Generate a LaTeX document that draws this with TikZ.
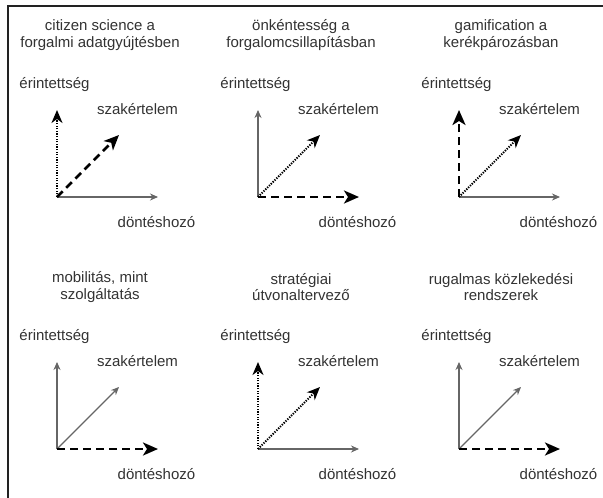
\documentclass[tikz,border=0pt]{standalone}
\usepackage{fontspec}
\setmainfont{Liberation Sans}
\usetikzlibrary{arrows.meta}
\definecolor{axgray}{HTML}{666666}
\definecolor{txtgray}{HTML}{333333}
\definecolor{frame}{HTML}{222222}

\begin{document}
\begin{tikzpicture}[
  x=1pt, y=-1pt,
  every node/.style={text=txtgray, font=\fontsize{15}{16.5}\selectfont, inner sep=0pt},
  thinax/.style={axgray, line width=1.1pt, -{Stealth[length=8pt, width=7pt]}},
  dashax/.style={black, line width=2.6pt, dash pattern=on 8pt off 5pt,
    -{Stealth[length=15pt, width=13pt, inset=4pt]}},
  dotax/.style={black, line width=2pt, dash pattern=on 1.3pt off 1.3pt,
    -{Stealth[length=13pt, width=11pt, inset=4pt]}},
  title/.style={align=center},
]

% Background and frame
\useasboundingbox (0,0) rectangle (603,498);
\fill[white] (0,0) rectangle (603,498);
\draw[frame, line width=2pt] (7.5,498) -- (7.5,5.5) -- (603,5.5);

% --- Panel 1: citizen science ---
\coordinate (o1) at (57,197);
\coordinate (v1) at (57,110);
\coordinate (h1) at (158,197);
\coordinate (d1) at (119,135);
\draw[thinax] (o1) -- (h1);
\draw[dotax] (o1) -- (v1);
\draw[dashax] (o1) -- (d1);
\node[title] (t1) at (100,35) {citizen science a\\forgalmi adatgyújtésben};
\node (er1) at (54.5,85) {érintettség};
\node (sz1) at (137.5,109) {szakértelem};
\node (dh1) at (156.5,222) {döntéshozó};

% --- Panel 2: önkéntesség ---
\coordinate (o2) at (258,197);
\coordinate (v2) at (258,110);
\coordinate (h2) at (359,197);
\coordinate (d2) at (320,135);
\draw[thinax] (o2) -- (v2);
\draw[dotax] (o2) -- (d2);
\draw[dashax] (o2) -- (h2);
\node[title] (t2) at (301,35) {önkéntesség a\\forgalomcsillapításban};
\node (er2) at (255.5,85) {érintettség};
\node (sz2) at (338.5,109) {szakértelem};
\node (dh2) at (357.5,222) {döntéshozó};

% --- Panel 3: gamification ---
\coordinate (o3) at (459,197);
\coordinate (v3) at (459,110);
\coordinate (h3) at (560,197);
\coordinate (d3) at (521,135);
\draw[thinax] (o3) -- (h3);
\draw[dotax] (o3) -- (d3);
\draw[dashax] (o3) -- (v3);
\node[title] (t3) at (501,35) {gamification a\\kerékpározásban};
\node (er3) at (456.5,85) {érintettség};
\node (sz3) at (539.5,109) {szakértelem};
\node (dh3) at (558.5,222) {döntéshozó};

% --- Panel 4: mobilitás ---
\coordinate (o4) at (57,449);
\coordinate (v4) at (57,362);
\coordinate (h4) at (158,449);
\coordinate (d4) at (119,387);
\draw[thinax] (o4) -- (v4);
\draw[thinax] (o4) -- (d4);
\draw[dashax] (o4) -- (h4);
\node[title] (t4) at (100,287) {mobilitás, mint\\szolgáltatás};
\node (er4) at (54.5,337) {érintettség};
\node (sz4) at (137.5,361) {szakértelem};
\node (dh4) at (156.5,474) {döntéshozó};

% --- Panel 5: stratégiai ---
\coordinate (o5) at (258,449);
\coordinate (v5) at (258,362);
\coordinate (h5) at (359,449);
\coordinate (d5) at (320,387);
\draw[thinax] (o5) -- (h5);
\draw[dotax] (o5) -- (v5);
\draw[dotax] (o5) -- (d5);
\node[title] (t5) at (301,287) {stratégiai\\útvonaltervező};
\node (er5) at (255.5,337) {érintettség};
\node (sz5) at (338.5,361) {szakértelem};
\node (dh5) at (357.5,474) {döntéshozó};

% --- Panel 6: rugalmas ---
\coordinate (o6) at (459,449);
\coordinate (v6) at (459,362);
\coordinate (h6) at (560,449);
\coordinate (d6) at (521,387);
\draw[thinax] (o6) -- (v6);
\draw[thinax] (o6) -- (d6);
\draw[dashax] (o6) -- (h6);
\node[title] (t6) at (501,287) {rugalmas közlekedési\\rendszerek};
\node (er6) at (456.5,337) {érintettség};
\node (sz6) at (539.5,361) {szakértelem};
\node (dh6) at (558.5,474) {döntéshozó};

\end{tikzpicture}
\end{document}
